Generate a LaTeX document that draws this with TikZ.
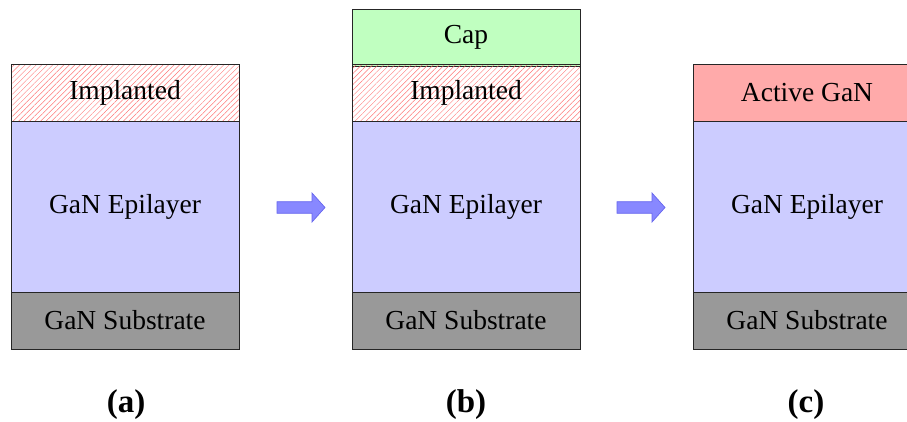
\documentclass[tikz,border=0pt]{standalone}
\usepackage{fontspec}
\setmainfont{Liberation Serif}
\usetikzlibrary{patterns.meta}
\definecolor{epicol}{HTML}{CCCCFF}
\definecolor{subcol}{HTML}{999999}
\definecolor{capcol}{HTML}{C0FFC0}
\definecolor{actcol}{HTML}{FFAAAA}
\definecolor{arrfill}{HTML}{8888FF}
\definecolor{arrdraw}{HTML}{6666EE}
\definecolor{hatchcol}{HTML}{FF7777}
\begin{document}
\begin{tikzpicture}[x=1pt,y=-1pt,
  layer/.style={draw=black!85,line width=0.9pt,anchor=north west,inner sep=0pt,outer sep=0pt,
    minimum width=228pt,font=\rmfamily\fontsize{27.5}{33}\selectfont},
  thin/.style={layer,minimum height=57pt},
  thick/.style={layer,minimum height=171pt},
  implanted/.style={thin,pattern={Lines[angle=45,distance=3.9pt,line width=0.45pt]},pattern color=hatchcol},
  epi/.style={thick,fill=epicol},
  sub/.style={thin,fill=subcol},
  capl/.style={thin,fill=capcol},
  act/.style={thin,fill=actcol},
  lbl/.style={font=\rmfamily\fontsize{33}{40}\selectfont\bfseries,inner sep=0pt},
  bigarrow/.style={fill=arrfill,draw=arrdraw,line width=0.7pt}]
\useasboundingbox (0,0) rectangle (907,421);
% panel a
\node[implanted] (aimp) at (11,64) {Implanted};
\node[epi] (aepi) at (11,121) {GaN Epilayer};
\node[sub] (asub) at (11,292) {GaN Substrate};
% panel b
\node[capl] (bcap) at (352,9) {Cap};
\node[implanted] (bimp) at (352,64) {Implanted};
\node[epi] (bepi) at (352,121) {GaN Epilayer};
\node[sub] (bsub) at (352,292) {GaN Substrate};
% panel c
\node[act] (cact) at (693,64) {Active GaN};
\node[epi] (cepi) at (693,121) {GaN Epilayer};
\node[sub] (csub) at (693,292) {GaN Substrate};
% labels
\node[lbl] (la) at (126,405) {(a)};
\node[lbl] (lb) at (466,405) {(b)};
\node[lbl] (lc) at (806,405) {(c)};
% arrows
\foreach \ax in {277,617}{
  \draw[bigarrow] (\ax,201.7) -- ++(35,0) -- ++(0,-8.7) -- ++(13,14.5) -- ++(-13,14.5) -- ++(0,-8.7) -- ++(-35,0) -- cycle;
}
\end{tikzpicture}
\end{document}
